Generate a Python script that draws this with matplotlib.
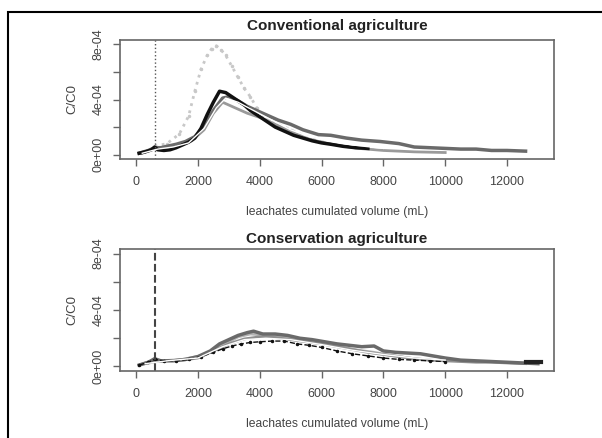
import matplotlib
matplotlib.use("Agg")
from matplotlib import pyplot as plt
from matplotlib.patches import Rectangle
import numpy as np

plt.rcParams['font.family'] = ['Liberation Sans', 'DejaVu Sans']

# ---- Conventional agriculture (C/C0 in units of 1e-4) ----
conv_a_x = [100, 300, 500, 600, 700, 900, 1100, 1300, 1500, 1700, 1900, 2100, 2300, 2500, 2700,
            2900, 3100, 3300, 3500, 3700, 3900, 4100, 4300, 4500, 4800, 5100, 5400, 5700, 6000,
            6300, 6700, 7100, 7500]
conv_a_y = [0.1, 0.2, 0.35, 0.55, 0.35, 0.3, 0.35, 0.5, 0.7, 0.9, 1.2, 1.9, 2.9, 3.8, 4.6,
            4.5, 4.2, 3.9, 3.6, 3.2, 2.9, 2.6, 2.3, 2.0, 1.7, 1.4, 1.2, 1.0, 0.85,
            0.75, 0.6, 0.5, 0.45]

conv_b_x = [100, 400, 600, 800, 1000, 1300, 1600, 1900, 2200, 2500, 2800, 3000, 3300, 3600,
            3900, 4200, 4600, 5000, 5400, 5900, 6300, 6800, 7300, 7900, 8500, 9000, 9500,
            10000, 10500, 11000, 11500, 12000, 12600]
conv_b_y = [0.1, 0.3, 0.5, 0.5, 0.6, 0.75, 0.95, 1.3, 2.1, 3.2, 4.1, 4.2, 3.9, 3.5,
            3.2, 2.9, 2.5, 2.2, 1.8, 1.45, 1.4, 1.2, 1.05, 0.95, 0.8, 0.55, 0.5,
            0.45, 0.4, 0.4, 0.3, 0.3, 0.25]

conv_c_x = [200, 600, 1000, 1400, 1800, 2200, 2500, 2800, 3000, 3300, 3600, 4000, 4500, 5000,
            5500, 6000, 6600, 7200, 8000, 9000, 10000]
conv_c_y = [0.1, 0.45, 0.5, 0.7, 1.0, 1.8, 3.0, 3.8, 3.6, 3.3, 3.0, 2.7, 2.2, 1.7,
            1.2, 0.9, 0.65, 0.45, 0.3, 0.2, 0.15]

conv_d_x = [600, 1000, 1400, 1700, 1900, 2100, 2300, 2450, 2600, 2750, 2900, 3100, 3300, 3500,
            3700, 3900, 4100, 4300, 4600, 5000, 5500, 6000]
conv_d_y = [0.6, 0.8, 1.5, 2.8, 4.6, 6.2, 7.2, 7.7, 7.9, 7.6, 7.2, 6.4, 5.6, 4.8,
            4.2, 3.4, 2.9, 2.6, 2.2, 1.8, 1.3, 1.0]

conv_w_x = [200, 700, 1200, 1700, 2200, 2600, 2900, 3300, 3800, 4400, 5000, 5600, 6200, 7000, 8000]
conv_w_y = [0.1, 0.4, 0.55, 0.85, 1.9, 3.4, 4.1, 3.8, 3.2, 2.5, 1.8, 1.3, 1.0, 0.7, 0.45]

# ---- Conservation agriculture ----
cons_a_x = [100, 400, 600, 800, 1200, 1600, 2000, 2400, 2700, 3000, 3300, 3600, 3800, 4100,
            4500, 4900, 5300, 5700, 6100, 6500, 6900, 7300, 7700, 8000, 8400, 8800, 9200,
            9600, 10000, 10500, 11000, 11500, 12000, 12500, 13000]
cons_a_y = [0.1, 0.3, 0.55, 0.4, 0.4, 0.5, 0.7, 1.1, 1.6, 1.9, 2.2, 2.4, 2.5, 2.3,
            2.3, 2.2, 2.0, 1.9, 1.75, 1.6, 1.5, 1.4, 1.45, 1.1, 1.0, 0.95, 0.9,
            0.75, 0.6, 0.45, 0.4, 0.35, 0.3, 0.25, 0.2]

cons_b_x = [100, 400, 600, 900, 1300, 1700, 2100, 2500, 2800, 3100, 3400, 3700, 4000, 4400,
            4800, 5200, 5600, 6000, 6500, 7000, 7500, 8000, 8500, 9000, 9500, 10000]
cons_b_y = [0.1, 0.3, 0.5, 0.4, 0.4, 0.5, 0.7, 1.0, 1.25, 1.45, 1.6, 1.7, 1.75, 1.8,
            1.8, 1.6, 1.5, 1.35, 1.1, 0.9, 0.75, 0.6, 0.5, 0.45, 0.4, 0.35]

cons_c_x = [100, 500, 900, 1500, 2000, 2500, 3000, 3500, 4000, 4500, 5000, 5500, 6000, 6500,
            7000, 7500, 8000, 8500, 9000, 9500, 10000, 10500, 11000, 11500, 12000, 12600]
cons_c_y = [0.1, 0.4, 0.4, 0.45, 0.6, 1.1, 1.6, 1.95, 2.1, 2.05, 1.9, 1.75, 1.6, 1.4,
            1.2, 1.0, 0.85, 0.7, 0.55, 0.45, 0.4, 0.35, 0.3, 0.3, 0.25, 0.2]

cons_d_x = [300, 800, 1500, 2200, 2800, 3300, 3700, 4200, 4700, 5200, 5700, 6200, 6700, 7200,
            7700, 8200, 8800, 9500]
cons_d_y = [0.2, 0.4, 0.5, 0.8, 1.5, 2.1, 2.3, 2.2, 2.1, 2.0, 1.8, 1.6, 1.35, 1.15,
            1.0, 0.8, 0.6, 0.45]

cons_w_x = [300, 1000, 2000, 2800, 3500, 4200, 5000, 6000, 7000, 8000, 9000, 10000]
cons_w_y = [0.2, 0.4, 0.6, 1.4, 1.9, 2.0, 1.9, 1.55, 1.15, 0.85, 0.6, 0.45]

cons_end_x = [12600, 13100]
cons_end_y = [0.3, 0.3]

v_line = 600
xticks = [0, 2000, 4000, 6000, 8000, 10000, 12000]
yticks = [0, 2, 4, 6, 8]
ylabels = ['0e+00', '', '4e-04', '', '8e-04']

fig = plt.figure(figsize=(6.02, 4.38), dpi=100)
# outer frame of the figure (cut at right and bottom)
fig.add_artist(Rectangle((8/602, -0.05), 1.2, 1.05 - 12/438, transform=fig.transFigure,
                         fill=False, ec='black', lw=1.5))

tc = '#444444'


def style(ax, title, tpad):
    ax.set_xlim(-520, 13520)
    ax.set_ylim(-0.32, 8.32)
    ax.set_xticks(xticks)
    ax.set_xticklabels([str(t) for t in xticks], fontsize=9, color=tc)
    ax.set_yticks(yticks)
    ax.set_yticklabels(ylabels, fontsize=9, color=tc, rotation=90, va='center')
    ax.tick_params(direction='out', length=5, color='#666666', width=1)
    ax.tick_params(axis='x', pad=7)
    ax.tick_params(axis='y', pad=6)
    for s in ax.spines.values():
        s.set_color('#666666')
        s.set_linewidth(1.2)
    ax.set_title(title, fontsize=11, fontweight='bold', color='#222222', pad=tpad)
    ax.set_xlabel('leachates cumulated volume (mL)', fontsize=8.7, color=tc, labelpad=13)
    ax.set_ylabel('C/C0', fontsize=9.5, color=tc, labelpad=10)


ax1 = fig.add_axes([120/602, 1-159/438, 434/602, 119/438])
ax1.plot(conv_d_x, conv_d_y, ls=':', lw=2, color='#c8c8c8', marker='.', ms=3)
ax1.plot(conv_c_x, conv_c_y, lw=2, color='#9a9a9a')
ax1.plot(conv_b_x, conv_b_y, lw=2.5, color='#6a6a6a')
ax1.plot(conv_a_x, conv_a_y, lw=2.5, color='#111111')
ax1.plot(conv_w_x, conv_w_y, lw=1, color='white')
ax1.axvline(v_line, ls=':', lw=1, color='#555555')
style(ax1, 'Conventional agriculture', 7)

ax2 = fig.add_axes([120/602, 1-371/438, 434/602, 122/438])
ax2.plot(cons_d_x, cons_d_y, lw=2, color='#b5b5b5')
ax2.plot(cons_c_x, cons_c_y, lw=2, color='#8f8f8f')
ax2.plot(cons_a_x, cons_a_y, lw=2.5, color='#6a6a6a')
ax2.plot(cons_b_x, cons_b_y, lw=1, ls='--', color='#111111', marker='.', ms=3)
ax2.plot(cons_w_x, cons_w_y, lw=1, color='white')
ax2.plot(cons_end_x, cons_end_y, lw=3, color='#222222')
ax2.axvline(v_line, ls='--', lw=1.5, color='#444444')
style(ax2, 'Conservation agriculture', 4)

fig.savefig('out.png', dpi=100)
